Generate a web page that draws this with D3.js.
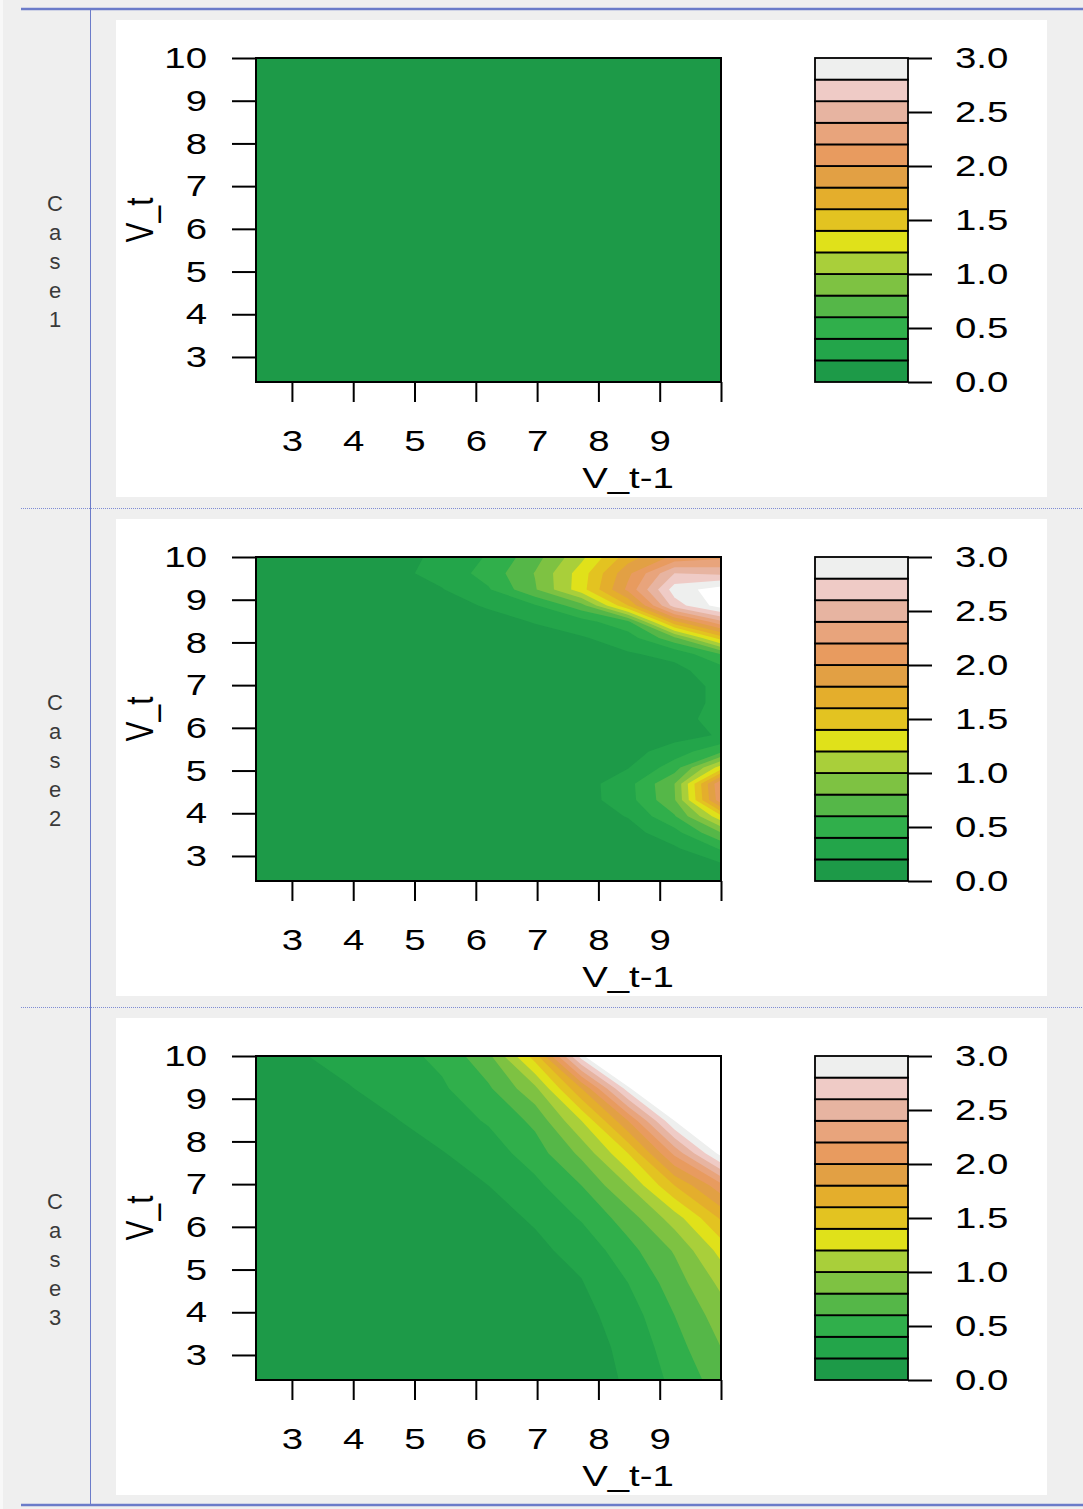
<!DOCTYPE html>
<html>
<head>
<meta charset="utf-8">
<script src="https://cdn.jsdelivr.net/npm/d3@7"></script>
<style>
    body { margin: 0; background: #efefef; }
    text { font-family: "Liberation Sans", Arial, sans-serif; }
    .yTicks text { transform-box: fill-box; transform-origin: right center; transform: scaleX(1.28); }
    .xTicks text { transform-box: fill-box; transform-origin: center center; transform: scaleX(1.28); }
    .lTicks text { transform-box: fill-box; transform-origin: left center; transform: scaleX(1.28); }
</style>
</head>
<body>
<div id="chart"></div>
<script>
// contour levels and band colours (band j = levels[j] .. levels[j+1])
var levels = [0, 0.2, 0.4, 0.6, 0.8, 1.0, 1.2, 1.4, 1.6, 1.8, 2.0, 2.2, 2.4, 2.6, 2.8, 3.0];
var bandColors = ["#1d9a48", "#23a54a", "#30af4b", "#55b748", "#7ec242", "#a9cf3a", "#e0e11a",
    "#e3c321", "#e4ae2c", "#e2a044", "#e89b5f", "#e8a47c", "#e7b4a1", "#efcbc6", "#eeefee"];

var xTicks = [3, 4, 5, 6, 7, 8, 9, 10];
var xTickLabels = ["3", "4", "5", "6", "7", "8", "9", ""];
var yTicks = [3, 4, 5, 6, 7, 8, 9, 10];
var legendTicks = [0, 0.5, 1.0, 1.5, 2.0, 2.5, 3.0];
var caseNames = ["Case 1", "Case 2", "Case 3"];
var xTitle = "V_t-1";
var yTitle = "V_t";
var axisRange = [2.414, 10];

// z grids, rows from V_t = 10 (top) down to V_t = 2.414, columns V_t-1 = 2.414 .. 10
var case1Z = [
    [0.05, 0.05],
    [0.05, 0.05]
];

var case2Z = [
    [0.05, 0.07, 0.10, 0.14, 0.24, 0.42, 0.72, 1.15, 1.70, 2.05, 2.15],
    [0.05, 0.07, 0.10, 0.15, 0.27, 0.48, 0.81, 1.30, 1.95, 2.60, 2.55],
    [0.04, 0.06, 0.08, 0.11, 0.19, 0.38, 0.78, 1.32, 2.05, 2.90, 3.10],
    [0.03, 0.05, 0.06, 0.08, 0.13, 0.22, 0.38, 0.72, 1.60, 2.70, 3.10],
    [0.03, 0.04, 0.05, 0.06, 0.09, 0.13, 0.21, 0.32, 0.55, 1.75, 2.35],
    [0.03, 0.03, 0.04, 0.05, 0.07, 0.10, 0.13, 0.18, 0.30, 0.75, 1.50],
    [0.03, 0.03, 0.04, 0.05, 0.07, 0.08, 0.10, 0.13, 0.18, 0.25, 0.60],
    [0.03, 0.03, 0.04, 0.05, 0.07, 0.08, 0.08, 0.10, 0.13, 0.15, 0.30],
    [0.03, 0.03, 0.04, 0.05, 0.07, 0.08, 0.08, 0.09, 0.10, 0.10, 0.25],
    [0.03, 0.03, 0.04, 0.05, 0.07, 0.08, 0.08, 0.09, 0.10, 0.10, 0.25],
    [0.03, 0.03, 0.04, 0.05, 0.07, 0.08, 0.08, 0.09, 0.10, 0.12, 0.28],
    [0.02, 0.03, 0.04, 0.05, 0.06, 0.07, 0.08, 0.09, 0.10, 0.12, 0.22],
    [0.02, 0.03, 0.04, 0.05, 0.06, 0.07, 0.08, 0.09, 0.12, 0.30, 0.55],
    [0.02, 0.03, 0.04, 0.05, 0.06, 0.07, 0.08, 0.10, 0.19, 0.50, 1.30],
    [0.02, 0.03, 0.04, 0.05, 0.06, 0.07, 0.08, 0.11, 0.33, 0.80, 2.20],
    [0.02, 0.03, 0.04, 0.05, 0.06, 0.07, 0.08, 0.11, 0.32, 0.78, 2.15],
    [0.02, 0.03, 0.04, 0.05, 0.06, 0.07, 0.08, 0.10, 0.21, 0.58, 1.35],
    [0.02, 0.03, 0.04, 0.05, 0.06, 0.07, 0.08, 0.09, 0.12, 0.33, 0.80],
    [0.02, 0.03, 0.04, 0.05, 0.06, 0.07, 0.08, 0.09, 0.10, 0.17, 0.42],
    [0.02, 0.03, 0.04, 0.05, 0.06, 0.07, 0.07, 0.08, 0.09, 0.10, 0.17],
    [0.02, 0.02, 0.03, 0.04, 0.05, 0.06, 0.07, 0.08, 0.08, 0.08, 0.10]
];

var case3Z = [
    [0.12, 0.19, 0.27, 0.33, 0.45, 0.75, 1.50, 2.90, 4.50, 6.00, 7.50],
    [0.10, 0.15, 0.19, 0.28, 0.37, 0.57, 0.95, 1.80, 2.90, 4.50, 6.00],
    [0.08, 0.12, 0.16, 0.19, 0.30, 0.42, 0.65, 1.20, 2.00, 3.00, 4.50],
    [0.06, 0.09, 0.12, 0.15, 0.19, 0.30, 0.50, 0.85, 1.40, 2.25, 3.08],
    [0.05, 0.07, 0.09, 0.12, 0.15, 0.20, 0.35, 0.60, 1.00, 1.60, 2.13],
    [0.04, 0.05, 0.07, 0.09, 0.11, 0.14, 0.22, 0.42, 0.70, 1.10, 1.63],
    [0.03, 0.04, 0.05, 0.07, 0.09, 0.12, 0.16, 0.26, 0.53, 0.82, 1.27],
    [0.03, 0.03, 0.04, 0.05, 0.07, 0.10, 0.14, 0.19, 0.40, 0.70, 1.05],
    [0.02, 0.03, 0.03, 0.04, 0.06, 0.08, 0.11, 0.14, 0.30, 0.60, 0.90],
    [0.02, 0.02, 0.03, 0.04, 0.05, 0.07, 0.09, 0.13, 0.24, 0.52, 0.80],
    [0.02, 0.02, 0.03, 0.03, 0.04, 0.06, 0.08, 0.12, 0.22, 0.45, 0.70]
];

var caseGrids = [case1Z, case2Z, case3Z];

var svgWidth = 1083;
var svgHeight = 1509;
var rowStep = 499;
var panel = { left: 116, right: 1047, top: 20, bottom: 497 };
var plot = { left: 256, right: 721, top: 58, bottom: 382 };
var legendBox = { left: 815, right: 908 };
var frameColor = "#6b7bc9";

var svg = d3.select("#chart")
    .append("svg")
    .attr("width", svgWidth)
    .attr("height", svgHeight)
    .style("display", "block");

svg.append("rect")
    .attr("width", svgWidth)
    .attr("height", svgHeight)
    .attr("fill", "#efefef");

svg.append("rect")
    .attr("width", 3)
    .attr("height", svgHeight)
    .attr("fill", "#f8f8f8");

var xScale = d3.scaleLinear().domain(axisRange).range([plot.left, plot.right]);
var yScale = d3.scaleLinear().domain(axisRange).range([plot.bottom, plot.top]);
var levelScale = d3.scaleLinear().domain([levels[0], levels[levels.length - 1]]).range([plot.bottom, plot.top]);

caseGrids.forEach(function(grid, i) {
    var g = svg.append("g")
        .attr("transform", `translate(0, ${i * rowStep})`);

    g.append("rect")
        .attr("x", panel.left)
        .attr("y", panel.top)
        .attr("width", panel.right - panel.left)
        .attr("height", panel.bottom - panel.top)
        .attr("fill", "white");

    // filled contours
    var nx = grid[0].length;
    var ny = grid.length;
    var stepX = (axisRange[1] - axisRange[0]) / (nx - 1);
    var stepY = (axisRange[1] - axisRange[0]) / (ny - 1);

    var gridToPlot = d3.geoTransform({
        point: function(gx, gy) {
            this.stream.point(
                xScale(axisRange[0] + (gx - 0.5) * stepX),
                yScale(axisRange[1] - (gy - 0.5) * stepY));
        }
    });
    var contourPath = d3.geoPath(gridToPlot);

    var contours = d3.contours()
        .size([nx, ny])
        .thresholds(levels)(grid.flat());

    var clipId = "plotClip" + i;
    g.append("clipPath")
        .attr("id", clipId)
        .append("rect")
        .attr("x", plot.left)
        .attr("y", plot.top)
        .attr("width", plot.right - plot.left)
        .attr("height", plot.bottom - plot.top);

    g.append("g")
        .attr("clip-path", `url(#${clipId})`)
        .selectAll("path")
        .data(contours)
        .join("path")
        .attr("d", contourPath)
        .attr("fill", (d, j) => j < bandColors.length ? bandColors[j] : "white");

    g.append("rect")
        .attr("x", plot.left)
        .attr("y", plot.top)
        .attr("width", plot.right - plot.left)
        .attr("height", plot.bottom - plot.top)
        .attr("fill", "none")
        .attr("stroke", "black")
        .attr("stroke-width", 2);

    // axes
    var yAxis = g.append("g")
        .attr("class", "yTicks")
        .attr("transform", `translate(${plot.left}, 0)`)
        .call(d3.axisLeft(yScale).tickValues(yTicks).tickSize(24).tickPadding(25).tickFormat(d3.format("d")));

    var xAxis = g.append("g")
        .attr("class", "xTicks")
        .attr("transform", `translate(0, ${plot.bottom})`)
        .call(d3.axisBottom(xScale).tickValues(xTicks).tickSize(20).tickPadding(28)
            .tickFormat((d, k) => xTickLabels[k]));

    // colour key
    g.append("g")
        .selectAll("rect")
        .data(bandColors)
        .join("rect")
        .attr("x", legendBox.left)
        .attr("y", (d, j) => levelScale(levels[j + 1]))
        .attr("width", legendBox.right - legendBox.left)
        .attr("height", (d, j) => levelScale(levels[j]) - levelScale(levels[j + 1]))
        .attr("fill", d => d)
        .attr("stroke", "black")
        .attr("stroke-width", 1.8);

    var keyAxis = g.append("g")
        .attr("class", "lTicks")
        .attr("transform", `translate(${legendBox.right}, 0)`)
        .call(d3.axisRight(levelScale).tickValues(legendTicks).tickSize(24).tickPadding(23).tickFormat(d3.format(".1f")));

    [yAxis, xAxis, keyAxis].forEach(function(ax) {
        ax.select(".domain").remove();
        ax.attr("font-size", 30)
            .attr("font-family", "'Liberation Sans', Arial, sans-serif");
        ax.selectAll("line").attr("stroke", "black").attr("stroke-width", 2);
        ax.selectAll("text").attr("fill", "black");
    });

    // axis titles
    g.append("text")
        .attr("transform", "translate(628, 488) scale(1.28, 1)")
        .attr("text-anchor", "middle")
        .attr("font-size", 30)
        .attr("fill", "black")
        .text(xTitle);

    g.append("text")
        .attr("transform", "translate(153, 220) scale(1.28, 1) rotate(-90)")
        .attr("text-anchor", "middle")
        .attr("font-size", 30)
        .attr("fill", "black")
        .text(yTitle);

    // row label, one character per line
    var label = g.append("text")
        .attr("font-size", 22)
        .attr("fill", "#3a3a3a")
        .attr("text-anchor", "middle");
    label.selectAll("tspan")
        .data(caseNames[i].replace(" ", "").split(""))
        .join("tspan")
        .attr("x", 55)
        .attr("y", (d, k) => 211 + k * 29)
        .text(d => d);
});

// frame lines
svg.append("line")
    .attr("x1", 21).attr("x2", svgWidth)
    .attr("y1", 9).attr("y2", 9)
    .attr("stroke", frameColor).attr("stroke-width", 2.5);

svg.append("line")
    .attr("x1", 21).attr("x2", svgWidth)
    .attr("y1", 1505).attr("y2", 1505)
    .attr("stroke", frameColor).attr("stroke-width", 2.5);

svg.append("line")
    .attr("x1", 90.5).attr("x2", 90.5)
    .attr("y1", 9).attr("y2", 1505)
    .attr("stroke", frameColor).attr("stroke-width", 1);

[508.5, 1007.5].forEach(function(yy) {
    svg.append("line")
        .attr("x1", 21).attr("x2", svgWidth)
        .attr("y1", yy).attr("y2", yy)
        .attr("stroke", "#7f8dd4").attr("stroke-width", 1)
        .attr("stroke-dasharray", "1,1");
});
</script>
</body>
</html>
